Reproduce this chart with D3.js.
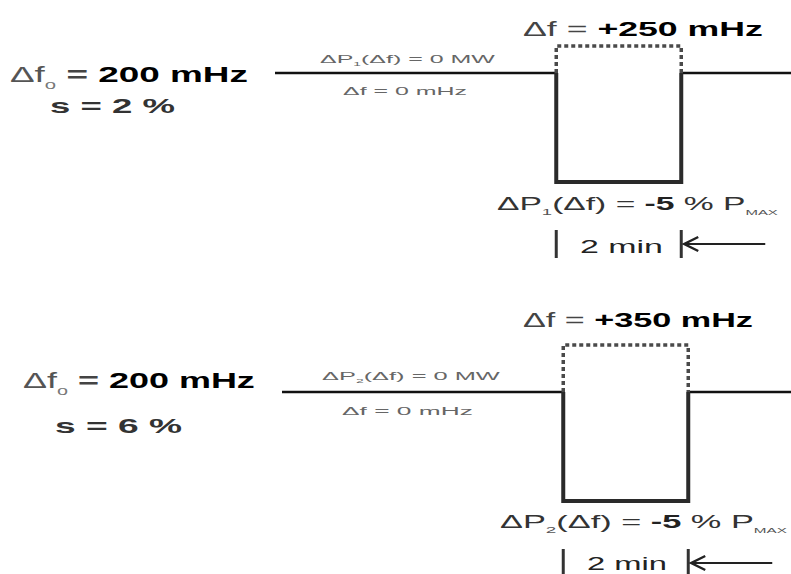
<!DOCTYPE html>
<html lang="en">
<head>
<meta charset="UTF-8">
<script src="https://d3js.org/d3.v7.min.js"></script>
<style>
  body { margin: 0; background: #fff; }
  svg { display: block; font-family: "Liberation Sans", Arial, sans-serif; }
</style>
</head>
<body>
<div id="chart"></div>
<script>
// one entry per panel (upper, lower)
const freqDeviation = [250, 350];   // Δf during the step, mHz
const droop = [2, 6];               // s, %
const deadband = [200, 200];        // Δf0, mHz
const powerChange = [-5, -5];       // ΔP(Δf), % Pmax
const powerIndex = ["1", "2"];
const basePower = [0, 0];           // MW before / after the step
const baseFreq = [0, 0];            // mHz before / after the step
const stepTimes = [4.5, 6.5];       // min, start and end of the step
const timeSpan = [0, 8.4];          // min
const durationLabel = "2 min";

// layout (pixels)
const W = 791, H = 574;
const origin = [{x: 275, y: 73}, {x: 282, y: 392}];
const textPos = [
  {left: [10, 82, 238], s: [50, 113, 125], freq: [523, 36, 240],
   top: [320, 63, 175], bottom: [343, 95, 124], power: [497, 210, 281], dur: [580, 253, 83]},
  {left: [23, 388, 232], s: [55, 433, 127], freq: [523, 327, 230],
   top: [322, 380, 178], bottom: [342, 415, 131], power: [500, 528, 287], dur: [587, 570, 80]}
];

const svg = d3.select("#chart").append("svg")
  .attr("width", W).attr("height", H);

const x = d3.scaleLinear().domain(timeSpan).range([0, 525]);
const yP = d3.scaleLinear().domain([0, -5]).range([0, 109]);
const yF = d3.scaleLinear().domain([115, 365]).range([0, -50]);

// text made of parts, stretched to the width it has in the picture
function addText(parts, pos, size) {
  const [tx, ty, tw] = pos;
  const t = svg.append("text").attr("x", tx).attr("y", ty).attr("font-size", size);
  let shift = 0;
  parts.forEach(p => {
    const sp = t.append("tspan").text(p.t)
      .attr("fill", p.fill || "#333")
      .attr("font-weight", p.bold ? "bold" : "normal");
    const want = p.sub ? Math.round(size * 0.3) : 0;
    if (want !== shift) { sp.attr("dy", want - shift); shift = want; }
    if (p.sub) sp.attr("font-size", p.size || size * 0.55);
  });
  const w = t.node().getComputedTextLength();
  const k = tw / w;
  t.attr("transform", `translate(${tx},0) scale(${k},1) translate(${-tx},0)`);
  return t;
}

origin.forEach((o, i) => {
  const g = svg.append("g").attr("transform", `translate(${o.x},${o.y})`);
  const t0 = x(stepTimes[0]), t1 = x(stepTimes[1]);
  const y0 = yP(basePower[i]), yb = yP(powerChange[i]);

  // flat line before and after
  g.append("line").attr("x1", x(timeSpan[0])).attr("x2", t0)
    .attr("y1", y0).attr("y2", y0).attr("stroke", "#111").attr("stroke-width", 2.5);
  g.append("line").attr("x1", t1).attr("x2", x(timeSpan[1]))
    .attr("y1", y0).attr("y2", y0).attr("stroke", "#111").attr("stroke-width", 2.5);

  // frequency step (dotted)
  g.append("path")
    .attr("d", `M${t0},${y0}V${yF(freqDeviation[i])}H${t1}V${y0}`)
    .attr("fill", "none").attr("stroke", "#4a4a4a").attr("stroke-width", 3.5)
    .attr("stroke-dasharray", "4,3");

  // power step
  g.append("path")
    .attr("d", `M${t0},${y0}V${yb}H${t1}V${y0}`)
    .attr("fill", "none").attr("stroke", "#2a2a2a").attr("stroke-width", 4);

  // duration marker
  [t0, t1].forEach(xx => {
    g.append("line").attr("x1", xx).attr("x2", xx)
      .attr("y1", yb + 48).attr("y2", yb + 76)
      .attr("stroke", "#333").attr("stroke-width", 3);
  });
  const ya = yb + 62;
  g.append("line").attr("x1", t1 + 3).attr("x2", t1 + 84)
    .attr("y1", ya).attr("y2", ya).attr("stroke", "#222").attr("stroke-width", 2);
  g.append("path")
    .attr("d", `M${t1 + 17},${ya - 7}L${t1 + 3},${ya}L${t1 + 17},${ya + 7}`)
    .attr("fill", "none").attr("stroke", "#222").attr("stroke-width", 2.5);

  const p = textPos[i];
  addText([
    {t: "Δf", fill: "#555"}, {t: "o", sub: true, fill: "#777"},
    {t: " = ", bold: true, fill: "#444"},
    {t: `${deadband[i]} mHz`, bold: true, fill: "#000"}
  ], p.left, 22);
  addText([{t: `s = ${droop[i]} %`, bold: true, fill: "#333"}], p.s, 21);
  addText([
    {t: "Δf = ", fill: "#444"},
    {t: `+${freqDeviation[i]} mHz`, bold: true, fill: "#000"}
  ], p.freq, 20);
  addText([
    {t: "ΔP", fill: "#666"}, {t: powerIndex[i], sub: true, fill: "#666"},
    {t: `(Δf) = ${basePower[i]} MW`, fill: "#666"}
  ], p.top, 11);
  addText([{t: `Δf = ${baseFreq[i]} mHz`, fill: "#666"}], p.bottom, 11);
  addText([
    {t: "ΔP", fill: "#333"}, {t: powerIndex[i], sub: true, fill: "#555"},
    {t: "(Δf) = ", fill: "#333"},
    {t: `${powerChange[i]}`, bold: true, fill: "#222"},
    {t: " % P", fill: "#333"}, {t: "MAX", sub: true, fill: "#555", size: 8}
  ], p.power, 18);
  addText([{t: durationLabel, fill: "#222"}], p.dur, 18);
});
</script>
</body>
</html>
